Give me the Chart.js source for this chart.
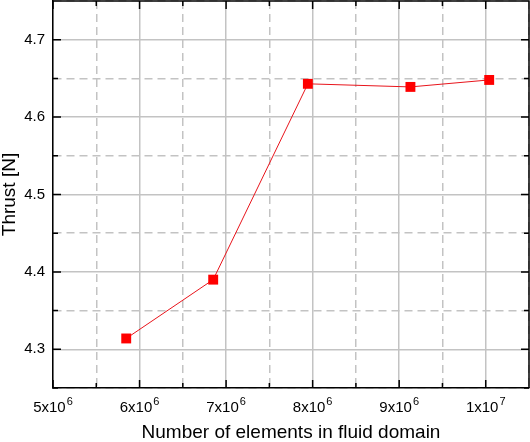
<!DOCTYPE html>
<html lang="en">
<head>
    <meta charset="UTF-8">
    <title>Thrust vs mesh size</title>
    <script src="https://cdn.jsdelivr.net/npm/chart.js@4.4.0/dist/chart.umd.min.js"></script>
    <style>
        body { margin: 0; background: #fff; }
        #wrap { width: 530px; height: 442px; position: relative; }
    </style>
</head>
<body>
    <div id="wrap"><canvas id="thrustChart"></canvas></div>
    <script>
        // mesh sizes (elements) and thrust
        const elements = [5.846e6, 6.851e6, 7.945e6, 9.13e6, 1.004e7];
        const thrust = [4.314, 4.390, 4.643, 4.639, 4.648];
        // x tick labels as mantissa + exponent (exponent drawn raised)
        const xTickBase = { 5: '5x10', 6: '6x10', 7: '7x10', 8: '8x10', 9: '9x10', 10: '1x10' };
        const xTickExp = { 5: '6', 6: '6', 7: '6', 8: '6', 9: '6', 10: '7' };
        const yTickLabels = ['4.3', '4.4', '4.5', '4.6', '4.7'];

        const FONT = 'Liberation Sans, Arial, sans-serif';
        const isMajorX = v => Math.abs(v / 1e6 - Math.round(v / 1e6)) < 1e-6;
        const isMajorY = v => Math.abs(v * 10 - Math.round(v * 10)) < 1e-6;

        // frame on top/right, inward tick marks, and x labels with superscripts
        const framePlugin = {
            id: 'frame',
            afterDraw(chart) {
                const { ctx, chartArea: a, scales } = chart;
                ctx.save();
                ctx.strokeStyle = '#000';
                ctx.lineWidth = 1.5;
                ctx.beginPath();
                ctx.moveTo(a.left, a.top); ctx.lineTo(a.right, a.top); ctx.lineTo(a.right, a.bottom);
                scales.x.ticks.forEach(t => {
                    const px = scales.x.getPixelForValue(t.value);
                    const len = isMajorX(t.value) ? 8 : 5;
                    ctx.moveTo(px, a.bottom); ctx.lineTo(px, a.bottom - len);
                    ctx.moveTo(px, a.top); ctx.lineTo(px, a.top + len);
                });
                scales.y.ticks.forEach(t => {
                    const py = scales.y.getPixelForValue(t.value);
                    const len = isMajorY(t.value) ? 8 : 5;
                    ctx.moveTo(a.left, py); ctx.lineTo(a.left + len, py);
                    ctx.moveTo(a.right, py); ctx.lineTo(a.right - len, py);
                });
                ctx.stroke();

                ctx.fillStyle = '#000';
                ctx.textAlign = 'left';
                ctx.textBaseline = 'alphabetic';
                scales.x.ticks.forEach(t => {
                    if (!isMajorX(t.value)) return;
                    const k = Math.round(t.value / 1e6);
                    const base = xTickBase[k], exp = xTickExp[k];
                    if (!base) return;
                    ctx.font = '15px ' + FONT;
                    const wb = ctx.measureText(base).width;
                    ctx.font = '11px ' + FONT;
                    const we = ctx.measureText(exp).width;
                    const x0 = scales.x.getPixelForValue(t.value) - (wb + 1 + we) / 2;
                    ctx.font = '15px ' + FONT;
                    ctx.fillText(base, x0, a.bottom + 24);
                    ctx.font = '11px ' + FONT;
                    ctx.fillText(exp, x0 + wb + 1, a.bottom + 16.5);
                });
                ctx.restore();
            }
        };

        new Chart(document.getElementById('thrustChart'), {
            type: 'line',
            data: {
                datasets: [{
                    data: elements.map((x, i) => ({ x: x, y: thrust[i] })),
                    borderColor: '#e8141b',
                    borderWidth: 1,
                    pointStyle: 'rect',
                    pointRadius: 7,
                    pointBackgroundColor: '#ff0000',
                    pointBorderColor: '#ff0000',
                    pointBorderWidth: 0,
                    tension: 0
                }]
            },
            options: {
                responsive: true,
                maintainAspectRatio: false,
                animation: false,
                layout: { autoPadding: false, padding: { top: 1, right: 1, left: 0, bottom: 0 } },
                plugins: { legend: { display: false }, tooltip: { enabled: false } },
                scales: {
                    x: {
                        type: 'linear',
                        min: 5e6,
                        max: 1.05e7,
                        afterFit: s => { s.height = 54; s.paddingLeft = 0; s.paddingRight = 0; },
                        ticks: {
                            stepSize: 5e5,
                            autoSkip: false,
                            maxRotation: 0,
                            padding: 9,
                            color: 'rgba(0,0,0,0)',
                            font: { family: FONT, size: 15 },
                            callback: v => isMajorX(v) ? (xTickBase[Math.round(v / 1e6)] || '') : ''
                        },
                        grid: { color: '#c3c3c3', lineWidth: 1.5, drawTicks: false },
                        border: {
                            color: '#000', width: 1.5,
                            dash: c => (c.tick && !isMajorX(c.tick.value)) ? [8, 5] : []
                        },
                        title: {
                            display: true,
                            text: 'Number of elements in fluid domain',
                            color: '#000',
                            font: { family: FONT, size: 19, lineHeight: 1 },
                            padding: { top: 0, bottom: 0 }
                        }
                    },
                    y: {
                        min: 4.25,
                        max: 4.75,
                        afterFit: s => { s.width = 53; s.paddingTop = 0; s.paddingBottom = 0; },
                        ticks: {
                            stepSize: 0.05,
                            autoSkip: false,
                            padding: 8,
                            color: '#000',
                            font: { family: FONT, size: 15 },
                            callback: v => {
                                if (!isMajorY(v)) return '';
                                const lbl = v.toFixed(1);
                                return yTickLabels.includes(lbl) ? lbl : '';
                            }
                        },
                        grid: { color: '#c3c3c3', lineWidth: 1.5, drawTicks: false },
                        border: {
                            color: '#000', width: 1.5,
                            dash: c => (c.tick && !isMajorY(c.tick.value)) ? [8, 5] : []
                        },
                        title: {
                            display: true,
                            text: 'Thrust [N]',
                            color: '#000',
                            font: { family: FONT, size: 19, lineHeight: 1 },
                            padding: { top: 0, bottom: 0 }
                        }
                    }
                }
            },
            plugins: [framePlugin]
        });
    </script>
</body>
</html>
